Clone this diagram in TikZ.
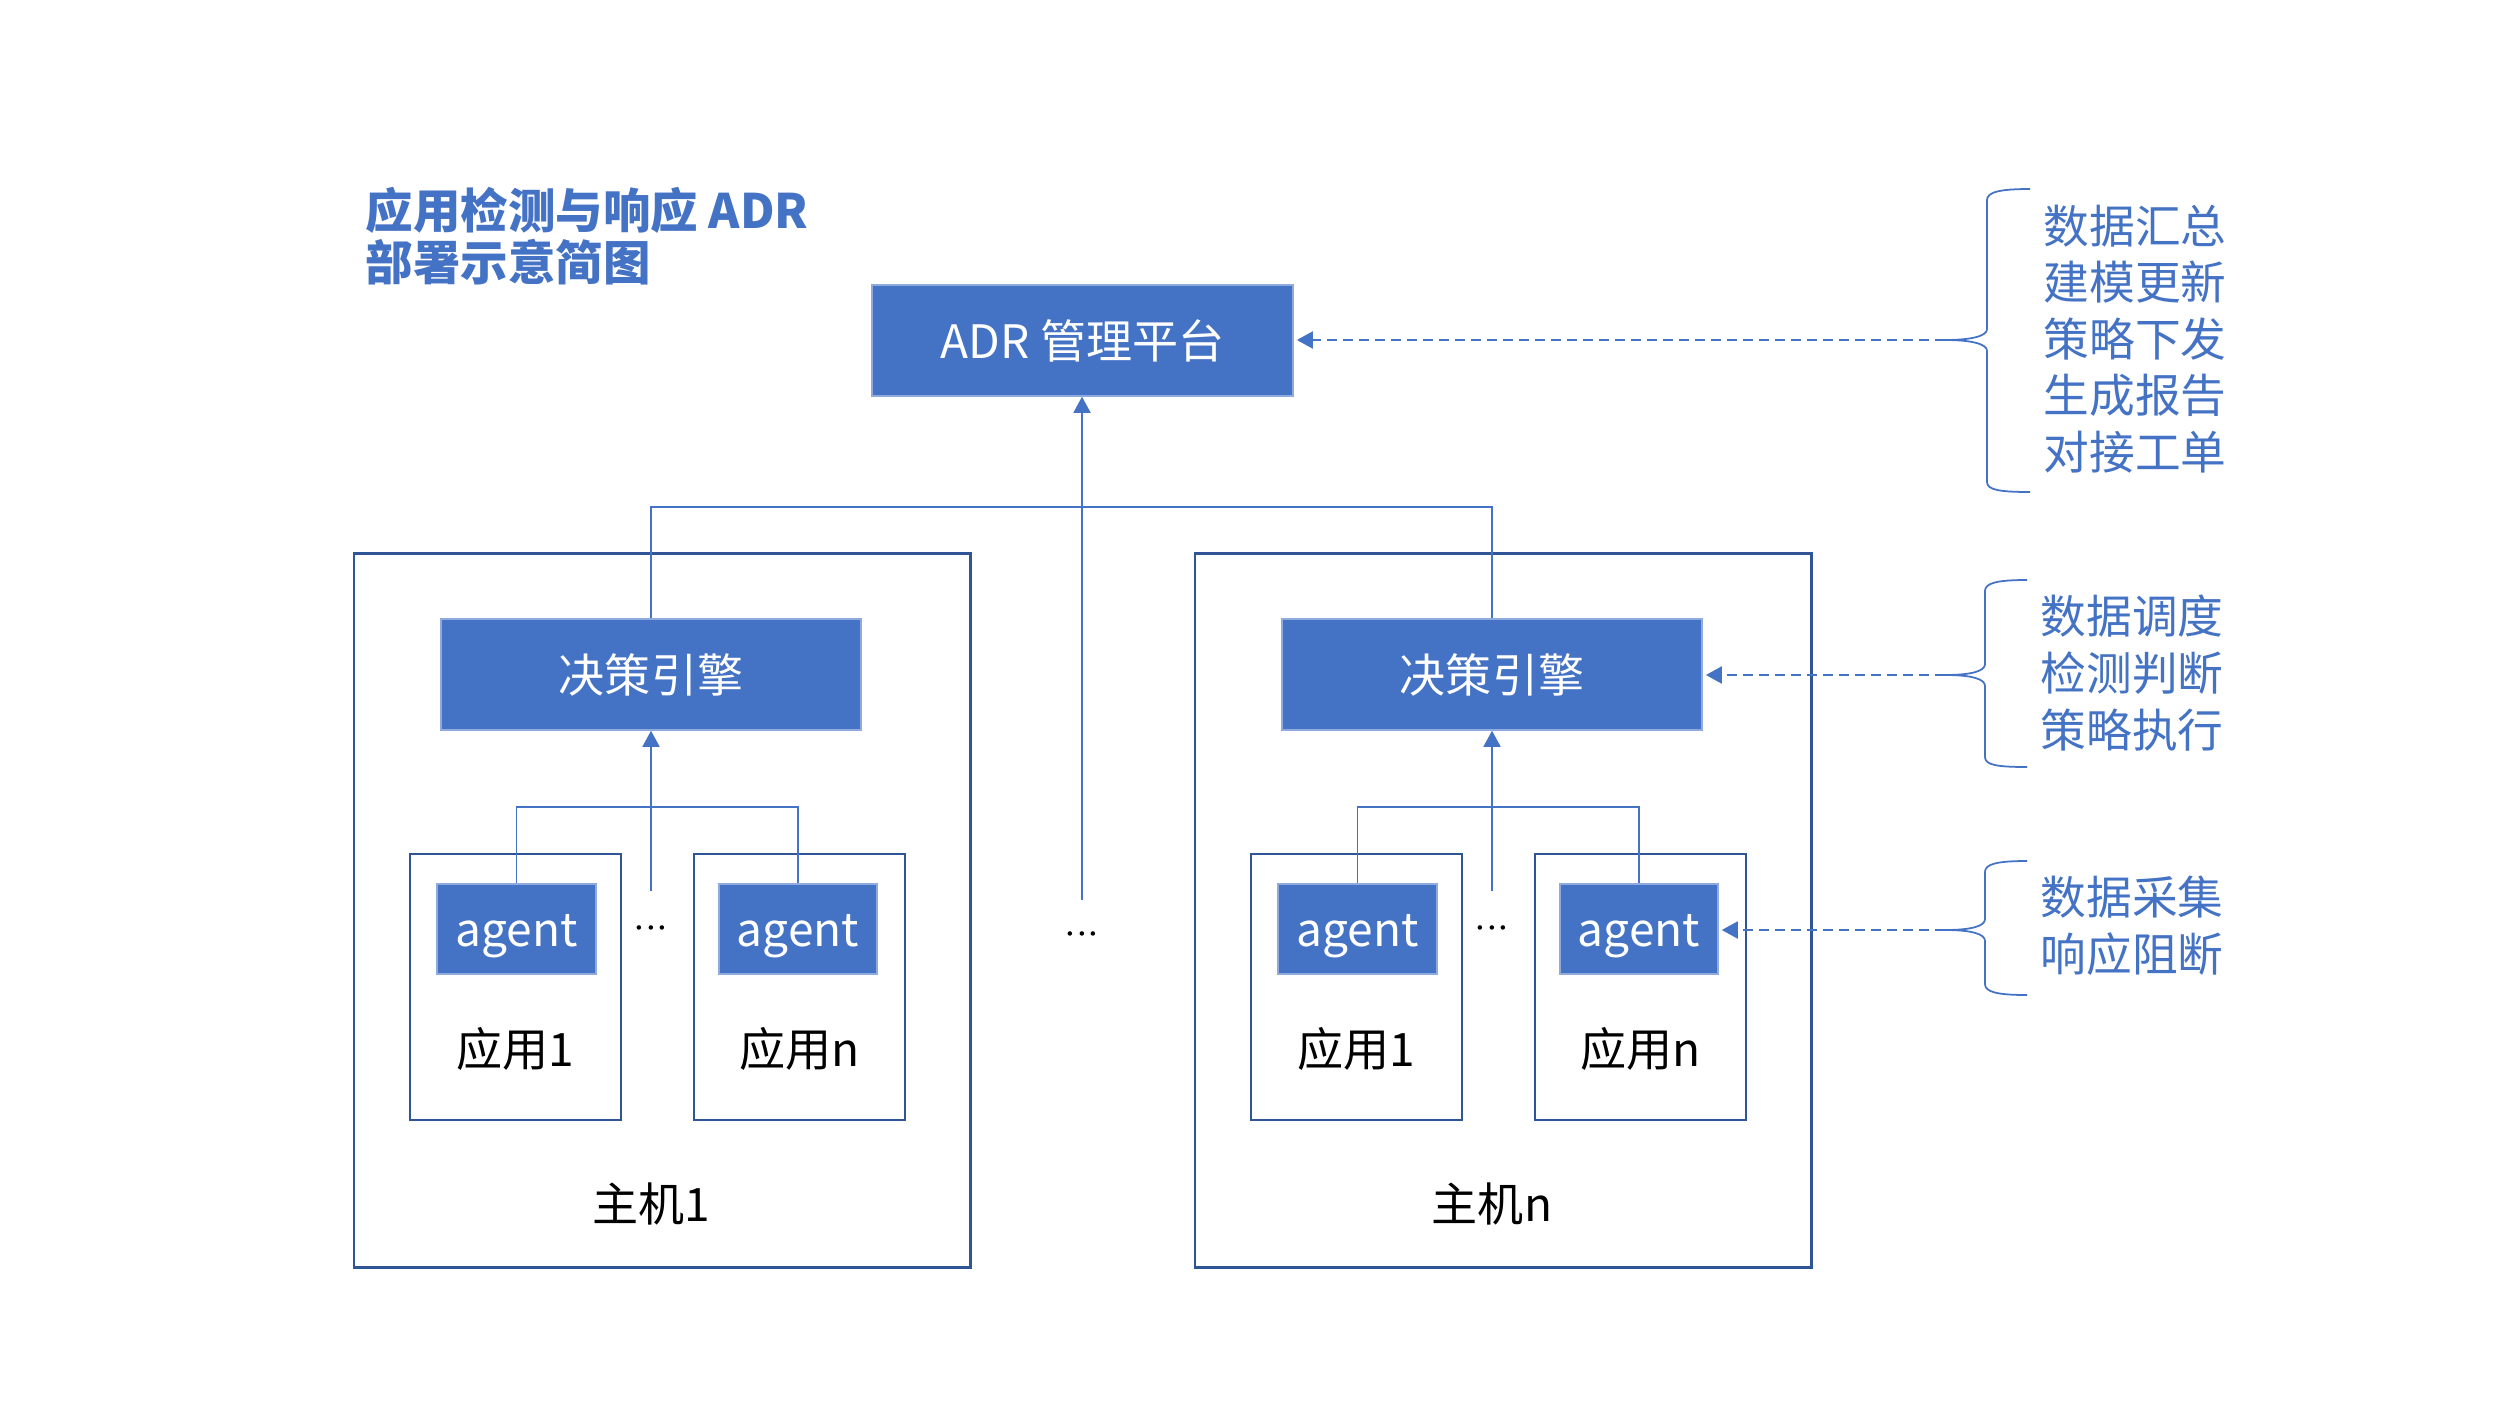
\documentclass[tikz,border=0pt]{standalone}
\usepackage{fontspec}
\setmainfont{Noto Sans CJK SC}
\usetikzlibrary{arrows.meta}
\definecolor{oblue}{HTML}{4472C4}
\definecolor{dblue}{HTML}{2F5597}
\definecolor{lblue}{HTML}{8FAADC}
\tikzset{
  bluebox/.style={fill=oblue, draw=lblue, line width=0.4pt, text=white, inner sep=0pt,
    text height=10pt, text depth=0pt, font=\fontsize{13.1pt}{15pt}\selectfont},
  framebox/.style={draw=dblue, line width=0.75pt, fill=none, inner sep=0pt},
  blacklabel/.style={text=black, inner sep=0pt, text height=10pt, text depth=0pt,
    font=\fontsize{13.1pt}{15pt}\selectfont},
  conn/.style={draw=oblue, line width=0.45pt},
  tip/.style={-{Triangle[width=0.17cm,length=0.16cm]}},
  dashconn/.style={draw=oblue, line width=0.55pt, dash pattern=on 0.1cm off 0.06cm, shorten >=0.03cm},
  bracestyle/.style={draw=oblue, line width=0.5pt},
  sidetext/.style={text=oblue, inner sep=0pt, anchor=west, align=left,
    font=\fontsize{13pt}{16.1pt}\selectfont},
  dotsstyle/.style={text=black, inner sep=0pt, text height=6pt, text depth=0pt,
    font=\fontsize{12pt}{14pt}\selectfont},
}
\begin{document}
\begin{tikzpicture}[x=0.01cm,y=-0.01cm]
\useasboundingbox (0,0) rectangle (2500,1406);
\fill[white] (0,0) rectangle (2500,1406);

% title
\node[text=oblue, inner sep=0pt, anchor=west, align=left,
  font=\fontsize{13.5pt}{14.8pt}\selectfont\bfseries] (title) at (365,236)
  {应用检测与响应 ADR\\部署示意简图};

% host frames
\node[framebox, minimum width=6.16cm, minimum height=7.13cm] (host1) at (662,910.5) {};
\node[framebox, minimum width=6.16cm, minimum height=7.13cm] (host2) at (1503,910.5) {};
\node[blacklabel] (host1lab) at (651,1204) {主机1};
\node[blacklabel] (host2lab) at (1492,1204) {主机n};

% management platform
\node[bluebox, minimum width=4.21cm, minimum height=1.11cm] (adr) at (1082.5,340.5) {ADR 管理平台};

% decision engines
\node[bluebox, minimum width=4.20cm, minimum height=1.11cm] (de1) at (651,674.5) {决策引擎};
\node[bluebox, minimum width=4.20cm, minimum height=1.11cm] (de2) at (1492,674.5) {决策引擎};

% application boxes
\node[framebox, minimum width=2.11cm, minimum height=2.66cm] (app11) at (515.5,987) {};
\node[framebox, minimum width=2.11cm, minimum height=2.66cm] (app12) at (799.5,987) {};
\node[framebox, minimum width=2.11cm, minimum height=2.66cm] (app21) at (1356.5,987) {};
\node[framebox, minimum width=2.11cm, minimum height=2.66cm] (app22) at (1640.5,987) {};
\node[blacklabel] (app11lab) at (515.5,1049) {应用1};
\node[blacklabel] (app12lab) at (799.5,1049) {应用n};
\node[blacklabel] (app21lab) at (1356.5,1049) {应用1};
\node[blacklabel] (app22lab) at (1640.5,1049) {应用n};

% agents
\node[bluebox, minimum width=1.59cm, minimum height=0.90cm] (ag11) at (516.5,929) {agent};
\node[bluebox, minimum width=1.58cm, minimum height=0.90cm] (ag12) at (798,929) {agent};
\node[bluebox, minimum width=1.59cm, minimum height=0.90cm] (ag21) at (1357.5,929) {agent};
\node[bluebox, minimum width=1.58cm, minimum height=0.90cm] (ag22) at (1639,929) {agent};

% ellipses
\node[dotsstyle] (dots1) at (651,928) {${\cdot}{\cdot}{\cdot}$};
\node[dotsstyle] (dots2) at (1492,928) {${\cdot}{\cdot}{\cdot}$};
\node[dotsstyle] (dots3) at (1082,934) {${\cdot}{\cdot}{\cdot}$};

% connectors: decision engines to platform
\coordinate (topbar) at (1082,507);
\coordinate (adrfoot) at (1082,900);
\draw[conn] (de1.north) |- (topbar) -| (de2.north);
\draw[conn, tip] (adrfoot) -- (adrfoot |- adr.south);

% connectors: agents to decision engines
\coordinate (bar1) at (651,807);
\coordinate (foot1) at (651,891);
\draw[conn] (ag11.north) |- (bar1) -| (ag12.north);
\draw[conn, tip] (foot1) -- (foot1 |- de1.south);
\coordinate (bar2) at (1492,807);
\coordinate (foot2) at (1492,891);
\draw[conn] (ag21.north) |- (bar2) -| (ag22.north);
\draw[conn, tip] (foot2) -- (foot2 |- de2.south);

% braces
\coordinate (b1tip) at (1945,340);
\coordinate (b2tip) at (1945,675);
\coordinate (b3tip) at (1945,930);
\draw[bracestyle] (2030,189) .. controls (2000,189) and (1987,192) .. (1987,200)
  -- (1987,329) .. controls (1987,336) and (1972,340) .. (b1tip)
  .. controls (1972,340) and (1987,344) .. (1987,351)
  -- (1987,482) .. controls (1987,490) and (2000,492) .. (2030,492);
\draw[bracestyle] (2027,580) .. controls (1997,580) and (1985,583) .. (1985,591)
  -- (1985,664) .. controls (1985,671) and (1972,675) .. (b2tip)
  .. controls (1972,675) and (1985,679) .. (1985,686)
  -- (1985,757) .. controls (1985,765) and (1997,767) .. (2027,767);
\draw[bracestyle] (2027,861) .. controls (1997,861) and (1985,864) .. (1985,872)
  -- (1985,919) .. controls (1985,926) and (1972,930) .. (b3tip)
  .. controls (1972,930) and (1985,934) .. (1985,941)
  -- (1985,984) .. controls (1985,992) and (1997,995) .. (2027,995);

% dashed arrows
\draw[dashconn, tip] (b1tip) -- (b1tip -| adr.east);
\draw[dashconn, tip] (b2tip) -- (b2tip -| de2.east);
\draw[dashconn, tip] (b3tip) -- (b3tip -| ag22.east);

% side texts
\node[sidetext] (t1) at (2043,339) {数据汇总\\建模更新\\策略下发\\生成报告\\对接工单};
\node[sidetext] (t2) at (2040,673) {数据调度\\检测判断\\策略执行};
\node[sidetext] (t3) at (2040,926) {数据采集\\响应阻断};
\end{tikzpicture}
\end{document}
